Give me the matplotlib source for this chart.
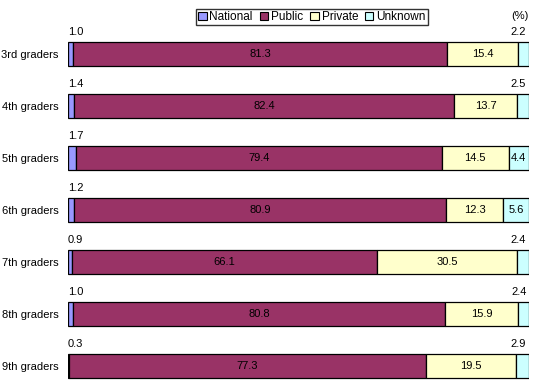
import matplotlib.pyplot as plt
from matplotlib.patches import Patch

plt.rcParams['font.family'] = ['Liberation Sans', 'DejaVu Sans']

grades = ['3rd graders', '4th graders', '5th graders', '6th graders',
          '7th graders', '8th graders', '9th graders']
national = [1.0, 1.4, 1.7, 1.2, 0.9, 1.0, 0.3]
public = [81.3, 82.4, 79.4, 80.9, 66.1, 80.8, 77.3]
private = [15.4, 13.7, 14.5, 12.3, 30.5, 15.9, 19.5]
unknown = [2.2, 2.5, 4.4, 5.6, 2.4, 2.4, 2.9]

names = ['National', 'Public', 'Private', 'Unknown']
colors = ['#9999FF', '#993366', '#FFFFCC', '#CCFFFF']

W, H = 536, 388
fig = plt.figure(figsize=(W / 100, H / 100), dpi=100)
ax = fig.add_axes([68 / W, 1 - 386.8 / H, (529 - 68) / W, (386.8 - 28) / H])

fs = 8
ypos = list(range(len(grades)))
left = [0.0] * len(grades)
for vals, c in zip([national, public, private, unknown], colors):
    ax.barh(ypos, vals, left=left, height=0.47, color=c, edgecolor='black', linewidth=0.9)
    left = [l + v for l, v in zip(left, vals)]

for i in ypos:
    total = national[i] + public[i] + private[i] + unknown[i]
    # national above the bar, left
    ax.text(0, i - 0.33, f'{national[i]:.1f}', ha='left', va='bottom', fontsize=fs)
    # public and private inside
    x0 = national[i]
    ax.text(x0 + public[i] / 2, i, f'{public[i]:.1f}', ha='center', va='center', fontsize=fs)
    x1 = x0 + public[i]
    ax.text(x1 + private[i] / 2, i, f'{private[i]:.1f}', ha='center', va='center', fontsize=fs)
    x2 = x1 + private[i]
    if unknown[i] >= 4:
        ax.text(x2 + unknown[i] / 2, i, f'{unknown[i]:.1f}', ha='center', va='center', fontsize=fs)
    else:
        ax.text(total - 0.6, i - 0.33, f'{unknown[i]:.1f}', ha='right', va='bottom', fontsize=fs)

ax.set_xlim(0, 100)
ax.set_ylim(6.4, -0.5)
ax.set_yticks(ypos)
ax.set_yticklabels(grades, fontsize=fs)
ax.tick_params(axis='y', length=0, pad=7)
ax.set_xticks([])
for s in ax.spines.values():
    s.set_visible(False)

handles = [Patch(facecolor=c, edgecolor='black', linewidth=0.8) for c in colors]
fig.legend(handles, names, loc='center', bbox_to_anchor=(312 / W, 1 - 17 / H),
           ncol=4, fontsize=fs + 0.5, frameon=True, fancybox=False, edgecolor='black',
           handlelength=0.7, handleheight=0.7, handletextpad=0.25, columnspacing=0.6,
           borderpad=0.2, borderaxespad=0)
fig.text(520 / W, 1 - 16 / H, '(%)', ha='center', va='center', fontsize=fs)

fig.savefig('out.png', dpi=100)
